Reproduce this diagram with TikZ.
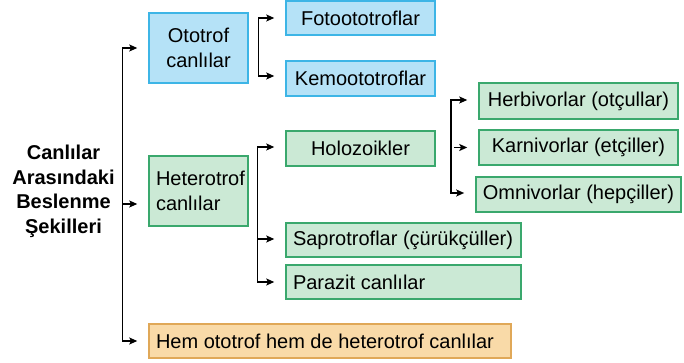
\documentclass[tikz,border=0pt]{standalone}
\usepackage{fontspec}
\setmainfont{Liberation Sans}
\usetikzlibrary{arrows.meta}
\definecolor{bfill}{HTML}{B5E2F7}
\definecolor{bdraw}{HTML}{3DB5E6}
\definecolor{gfill}{HTML}{CBE9D5}
\definecolor{gdraw}{HTML}{3AA86D}
\definecolor{ofill}{HTML}{F9DAA8}
\definecolor{odraw}{HTML}{E0A858}
\newcommand{\lbox}[2]{\makebox[#1][l]{#2}}
\begin{document}
\begin{tikzpicture}[x=1pt,y=1pt,
  every node/.style={font=\fontsize{20pt}{25pt}\selectfont, inner sep=0pt},
  box/.style={draw, line width=1.5pt, inner xsep=7pt},
  bluebox/.style={box, fill=bfill, draw=bdraw},
  greenbox/.style={box, fill=gfill, draw=gdraw},
  orangebox/.style={box, fill=ofill, draw=odraw},
  arr/.style={line width=1.4pt, -{Stealth[length=8pt,width=7pt,inset=1.8pt]}},
  biarr/.style={line width=1.4pt, {Stealth[length=8pt,width=7pt,inset=1.8pt]}-{Stealth[length=8pt,width=7pt,inset=1.8pt]}}
]
\useasboundingbox (0,0) rectangle (684,363);

\node[align=center, font=\fontsize{20pt}{24.5pt}\selectfont\bfseries] (root) at (63.5,171.5)
  {Canlılar\\Arasındaki\\Beslenme\\Şekilleri};

\node[bluebox, minimum width=99pt, minimum height=70pt, align=center] (ototrof) at (198.5,315) {Ototrof\\canlılar};
\node[bluebox, minimum width=149pt, minimum height=34pt] (foto) at (360.5,345) {Fotoototroflar};
\node[bluebox, minimum width=149pt, minimum height=35pt] (kemo) at (360.5,284.5) {Kemoototroflar};

\node[greenbox, text width=85pt, minimum height=70pt, align=left] (hetero) at (198.5,172) {Heterotrof\\canlılar};
\node[greenbox, minimum width=149pt, minimum height=35pt] (holo) at (360.5,214.5) {Holozoikler};
\node[greenbox, minimum width=199pt, minimum height=36pt] (herb) at (578.5,262) {Herbivorlar (otçullar)};
\node[greenbox, minimum width=199pt, minimum height=35pt] (karn) at (578.5,215.5) {Karnivorlar (etçiller)};
\node[greenbox, minimum width=199pt, minimum height=35pt] (omni) at (578.5,168.5) {Omnivorlar (hepçiller)};
\node[greenbox, minimum height=34pt] (sapro) at (403.5,123) {\lbox{221pt}{Saprotroflar (çürükçüller)}};
\node[greenbox, minimum height=34pt] (para) at (403.5,81) {\lbox{221pt}{Parazit canlılar}};

\node[orangebox, minimum height=34pt] (hem) at (330,22) {\lbox{348pt}{Hem ototrof hem de heterotrof canlılar}};

% main spine
\draw[biarr] ([xshift=-11pt]ototrof.west) -| ([xshift=-26pt]hem.west) -- ([xshift=-11pt]hem.west);
\draw[arr] ([xshift=-26pt,yshift=-13pt]hetero.west) -- ([xshift=-11pt,yshift=-13pt]hetero.west);

% ototrof subtree
\draw[biarr] ([xshift=-11pt]foto.west) -| ([xshift=-27pt,yshift=2.5pt]kemo.west) -- ([xshift=-11pt,yshift=2.5pt]kemo.west);

% heterotrof subtree
\draw[biarr] ([xshift=-11pt,yshift=1.5pt]holo.west) -| ([xshift=-28pt]para.west) -- ([xshift=-11pt]para.west);
\draw[arr] ([xshift=-28pt,yshift=1pt]sapro.west) -- ([xshift=-11pt,yshift=1pt]sapro.west);

% holozoik subtree
\draw[biarr] ([xshift=-11pt,yshift=1pt]herb.west) -| ([xshift=-24pt,yshift=1.5pt]omni.west) -- ([xshift=-11pt,yshift=1.5pt]omni.west);
\draw[arr] ([xshift=-24pt]karn.west) -- ([xshift=-11pt]karn.west);
\end{tikzpicture}
\end{document}
